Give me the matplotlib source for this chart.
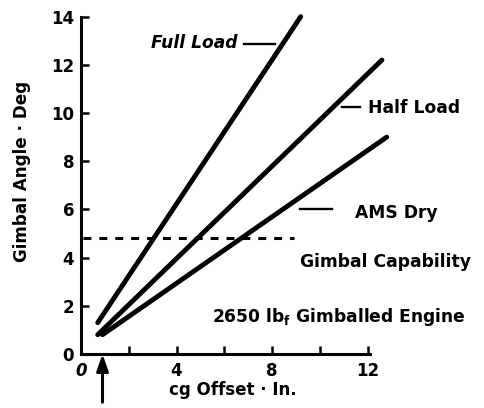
import matplotlib
matplotlib.use("Agg")
import matplotlib.pyplot as plt

# Gimbal angle required vs. cg offset for each vehicle loading
full_load_x = [0.7, 9.2]
full_load_y = [1.3, 14.0]
half_load_x = [0.7, 12.6]
half_load_y = [0.8, 12.2]
ams_dry_x = [0.9, 12.8]
ams_dry_y = [0.8, 9.0]

capability_x = [0.1, 8.9]
capability_y = [4.8, 4.8]

design_offset = 0.9

x_major = [0, 4, 8, 12]
x_minor = [2, 6, 10]
y_ticks = [0, 2, 4, 6, 8, 10, 12, 14]

plt.rcParams["font.family"] = ["DejaVu Sans"]
plt.rcParams["font.weight"] = "bold"
plt.rcParams["mathtext.fontset"] = "custom"
plt.rcParams["mathtext.bf"] = "DejaVu Sans:bold"
plt.rcParams["mathtext.rm"] = "DejaVu Sans:bold"
plt.rcParams["mathtext.default"] = "bf"

fig = plt.figure(figsize=(4.85, 4.08), dpi=100)
ax = fig.add_axes([81 / 485, 54 / 408, 289 / 485, 337.4 / 408])
ax.set_xlim(0, 12.1)
ax.set_ylim(0, 14)

for s in ("top", "right"):
    ax.spines[s].set_visible(False)
for s in ("left", "bottom"):
    ax.spines[s].set_linewidth(2.2)
    ax.spines[s].set_color("black")

lw = 3.5
ax.plot(full_load_x, full_load_y, color="black", lw=lw, solid_capstyle="round", clip_on=False)
ax.plot(half_load_x, half_load_y, color="black", lw=lw, solid_capstyle="round", clip_on=False)
ax.plot(ams_dry_x, ams_dry_y, color="black", lw=lw, solid_capstyle="round", clip_on=False)
ax.plot(capability_x, capability_y, color="black", lw=2.2, dashes=(2.6, 2.6), clip_on=False)

# Leader lines from labels to curves
ax.plot([6.82, 8.12], [12.86, 12.86], color="black", lw=1.7)
ax.plot([10.92, 11.67], [10.25, 10.25], color="black", lw=1.7, clip_on=False)
ax.plot([9.16, 10.5], [6.02, 6.02], color="black", lw=1.7)

tfs = 12.3
ax.text(6.57, 12.9, "Full Load", ha="right", va="center", fontsize=tfs, fontweight="bold", style="italic")
ax.text(12.0, 10.2, "Half Load", ha="left", va="center", fontsize=tfs, fontweight="bold", clip_on=False)
ax.text(11.46, 5.85, "AMS Dry", ha="left", va="center", fontsize=tfs, fontweight="bold", clip_on=False)
ax.text(9.16, 3.82, "Gimbal Capability", ha="left", va="center", fontsize=tfs, fontweight="bold", clip_on=False)
ax.text(5.48, 1.54, r"2650 lb$_{f}$ Gimballed Engine", ha="left", va="center", fontsize=tfs, fontweight="bold", clip_on=False)

ax.set_xticks(x_major)
ax.set_xticklabels([str(v) for v in x_major])
ax.set_xticks(x_minor, minor=True)
ax.set_yticks(y_ticks)
ax.set_yticklabels([str(v) for v in y_ticks])
ax.tick_params(axis="both", which="both", direction="in", length=6, width=1.8, color="black")
ax.tick_params(axis="y", pad=5, labelsize=12)
ax.tick_params(axis="x", pad=6, labelsize=12)
for lab in ax.get_xticklabels() + ax.get_yticklabels():
    lab.set_fontweight("bold")
ax.get_xticklabels()[0].set_style("italic")

ax.set_ylabel("Gimbal Angle · Deg", fontsize=12.1, fontweight="bold")
ax.yaxis.label.set_va("center")
ax.yaxis.set_label_coords(-0.204, 0.54)
ax.set_xlabel("cg Offset · In.", fontsize=12, fontweight="bold")
ax.xaxis.label.set_va("center")
ax.xaxis.set_label_coords(0.526, -0.107)

# Design cg offset marker
ax.annotate("", xy=(design_offset, 0), xycoords="data",
            xytext=(design_offset, -2.0), textcoords="data",
            arrowprops=dict(arrowstyle="-|>,head_length=1.0,head_width=0.35",
                            color="black", lw=2.2, shrinkA=0, shrinkB=0),
            annotation_clip=False)

fig.savefig("out.png", dpi=100, facecolor="white")
